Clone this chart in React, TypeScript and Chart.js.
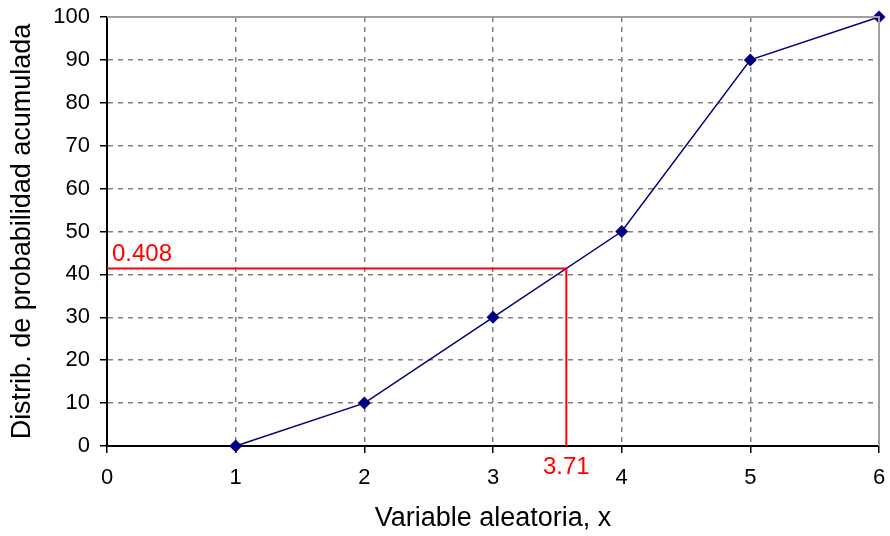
import React, { useEffect, useRef } from "react";
import { Chart, registerables } from "chart.js";

Chart.register(...registerables);

const xValues = [1, 2, 3, 4, 5, 6];
const yValues = [0, 10, 30, 50, 90, 100];
const readX = 3.57;
const readY = 41.4;
const readXLabel = "3.71";
const readYLabel = "0.408";
const xTitle = "Variable aleatoria, x";
const yTitle = "Distrib. de probabilidad acumulada";

const FONT = "'Liberation Sans', Arial, sans-serif";

export default function App() {
  const ref = useRef<HTMLCanvasElement>(null);
  useEffect(() => {
    if (!ref.current) return;
    const framePlugin = {
      id: "frame",
      afterDatasetsDraw(chart: any) {
        const { ctx, chartArea } = chart;
        ctx.save();
        ctx.strokeStyle = "#a0a0a0";
        ctx.lineWidth = 2;
        ctx.beginPath();
        ctx.moveTo(chartArea.left, chartArea.top);
        ctx.lineTo(chartArea.right, chartArea.top);
        ctx.lineTo(chartArea.right, chartArea.bottom);
        ctx.stroke();
        ctx.restore();
      },
      afterDraw(chart: any) {
        const { ctx, scales } = chart;
        ctx.save();
        ctx.fillStyle = "#ff0000";
        ctx.font = "24px " + FONT;
        ctx.textAlign = "left";
        ctx.textBaseline = "alphabetic";
        ctx.fillText(readYLabel, scales.x.getPixelForValue(0) + 5, scales.y.getPixelForValue(readY) - 7);
        ctx.textAlign = "center";
        ctx.textBaseline = "middle";
        ctx.fillText(readXLabel, scales.x.getPixelForValue(readX), scales.y.getPixelForValue(0) + 21);
        ctx.restore();
      },
    };
    const chart = new Chart(ref.current, {
      type: "scatter",
      data: {
        datasets: [
          {
            data: [
              { x: 0, y: readY },
              { x: readX, y: readY },
              { x: readX, y: 0 },
            ],
            showLine: true,
            borderColor: "#ff0000",
            borderWidth: 2,
            pointRadius: 0,
            clip: false,
          },
          {
            data: xValues.map((x, i) => ({ x, y: yValues[i] })),
            showLine: true,
            borderColor: "#000080",
            borderWidth: 1.5,
            backgroundColor: "#000080",
            pointStyle: "rectRot",
            pointRadius: 6.5,
            pointBorderWidth: 0,
            clip: false,
          },
        ],
      },
      options: {
        animation: false,
        responsive: false,
        layout: { padding: { left: 0, top: 17, right: 11, bottom: 0 } },
        plugins: { legend: { display: false }, tooltip: { enabled: false } },
        scales: {
          x: {
            type: "linear",
            min: 0,
            max: 6,
            afterFit(scale: any) {
              scale.height = 90;
              scale.paddingLeft = 0;
              scale.paddingRight = 0;
            },
            ticks: { stepSize: 1, color: "#000", font: { family: FONT, size: 22 }, padding: 12 },
            grid: { color: "#808080", tickColor: "#000", tickLength: 7, lineWidth: 1.5 },
            border: { color: "#000", width: 2, dash: [5, 5] },
            title: {
              display: true,
              text: xTitle,
              color: "#000",
              font: { family: FONT, size: 27 },
              padding: { top: 4, bottom: 1 },
            },
          },
          y: {
            type: "linear",
            min: 0,
            max: 100,
            afterFit(scale: any) {
              scale.width = 107;
              scale.paddingTop = 0;
              scale.paddingBottom = 0;
            },
            ticks: { stepSize: 10, color: "#000", font: { family: FONT, size: 22 }, padding: 10 },
            grid: { color: "#808080", tickColor: "#000", tickLength: 7, lineWidth: 1.5 },
            border: { color: "#000", width: 2, dash: [5, 5] },
            title: {
              display: true,
              text: yTitle,
              color: "#000",
              font: { family: FONT, size: 27 },
              padding: { top: 6, bottom: 4 },
            },
          },
        },
      },
      plugins: [framePlugin],
    } as any);
    return () => chart.destroy();
  }, []);
  return (
    <div style={{ position: "fixed", left: 0, top: 0, width: 890, height: 536, background: "#fff" }}>
      <canvas ref={ref} width={890} height={536} />
    </div>
  );
}
